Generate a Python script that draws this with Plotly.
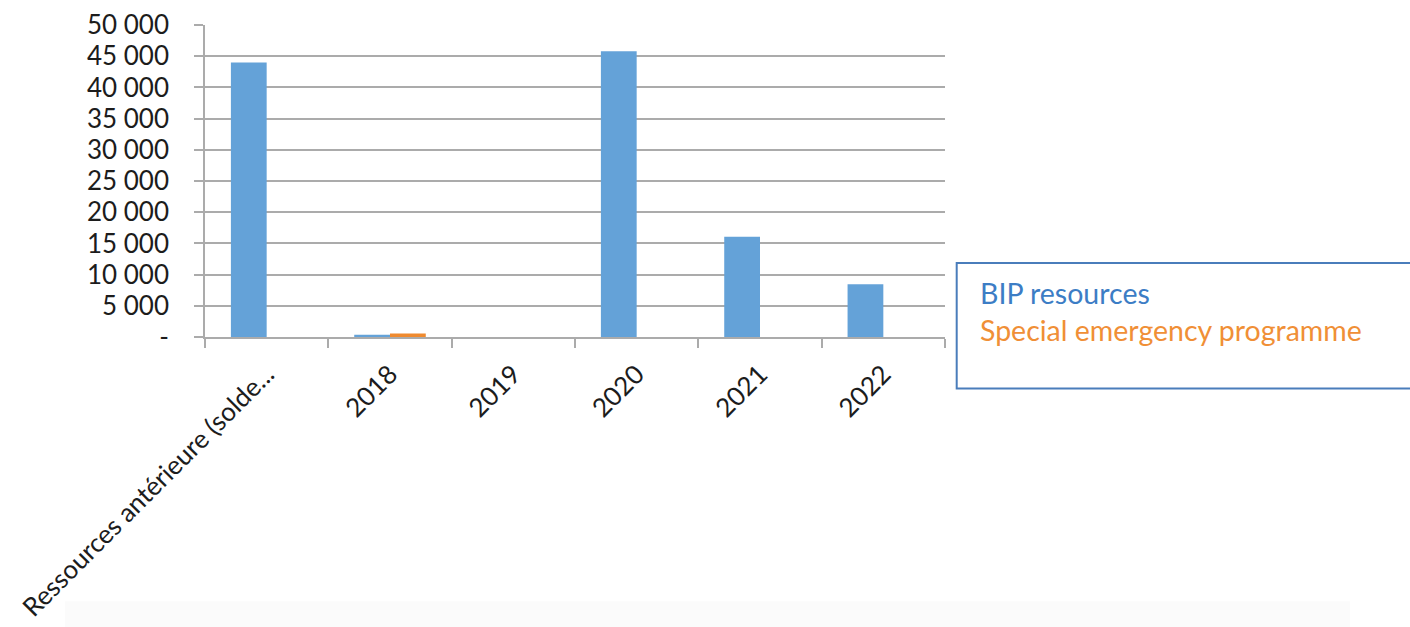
import plotly.graph_objects as go

categories = ["Ressources antérieure (solde...", "2018", "2019", "2020", "2021", "2022"]
bip_resources = [44000, 350, 0, 45800, 16050, 8450]
special_emergency = [0, 550, 0, 0, 0, 0]
series_names = ["BIP resources", "Special emergency programme"]
y_tickvals = [0, 5000, 10000, 15000, 20000, 25000, 30000, 35000, 40000, 45000, 50000]
y_ticktext = ["-", "5 000", "10 000", "15 000", "20 000", "25 000", "30 000",
              "35 000", "40 000", "45 000", "50 000"]

BLUE = "#64a2d8"
ORANGE = "#ef8a2f"
GRID = "#ababab"
FONT = "Lato"
TXT = "#1c1c1c"

fig = go.Figure()
fig.add_trace(go.Bar(x=categories, y=bip_resources, name=series_names[0],
                     marker=dict(color=BLUE, line=dict(width=0))))
fig.add_trace(go.Bar(x=categories, y=special_emergency, name=series_names[1],
                     marker=dict(color=ORANGE, line=dict(width=0))))

fig.update_layout(
    width=1410, height=627,
    margin=dict(l=205, r=465, t=24.5, b=290.3, pad=0, autoexpand=False),
    paper_bgcolor="white", plot_bgcolor="white",
    barmode="group", bargap=0.42, bargroupgap=0,
    showlegend=False,
    font=dict(family=FONT, size=26, color=TXT),
)
fig.update_yaxes(
    range=[0, 50000], tickvals=y_tickvals, ticktext=y_ticktext,
    showgrid=True, gridcolor=GRID, gridwidth=1.6,
    ticks="outside", ticklen=9, tickcolor=GRID, tickwidth=1.6,
    showline=True, linecolor=GRID, linewidth=1.6,
    zeroline=False, ticklabelstandoff=20, automargin=False,
    tickfont=dict(family=FONT, size=26, color=TXT),
)
fig.update_xaxes(
    type="category", tickangle=-45,
    showgrid=False, showline=True, linecolor=GRID, linewidth=1.6,
    ticks="outside", tickson="boundaries", ticklen=9, tickcolor=GRID, tickwidth=1.6,
    ticklabelstandoff=10, automargin=False,
    tickfont=dict(family=FONT, size=26, color=TXT),
)

# legend box drawn as a framed panel with coloured series names
fig.add_shape(type="rect", xref="paper", yref="paper",
              x0=(956.7 - 205) / 740, x1=(1412 - 205) / 740,
              y0=(336.7 - 388.3) / 312.2, y1=(336.7 - 262.7) / 312.2,
              line=dict(color="#4a7dbb", width=2), fillcolor="white", layer="above")
fig.add_annotation(xref="paper", yref="paper", x=(978 - 205) / 740, y=(336.7 - 293) / 312.2,
                   text=series_names[0], showarrow=False, xanchor="left", yanchor="middle",
                   font=dict(family=FONT, size=28.5, color="#3c7dc5"))
fig.add_annotation(xref="paper", yref="paper", x=(978 - 205) / 740, y=(336.7 - 330) / 312.2,
                   text=series_names[1], showarrow=False, xanchor="left", yanchor="middle",
                   font=dict(family=FONT, size=28.5, color="#f08f36"))

# faint grey panel at the bottom of the picture
fig.add_shape(type="rect", xref="paper", yref="paper",
              x0=(65 - 205) / 740, x1=(1350 - 205) / 740,
              y0=(336.7 - 640) / 312.2, y1=(336.7 - 601) / 312.2,
              line=dict(width=0), fillcolor="#fbfbfb", layer="below")

fig.write_html("out.html")
